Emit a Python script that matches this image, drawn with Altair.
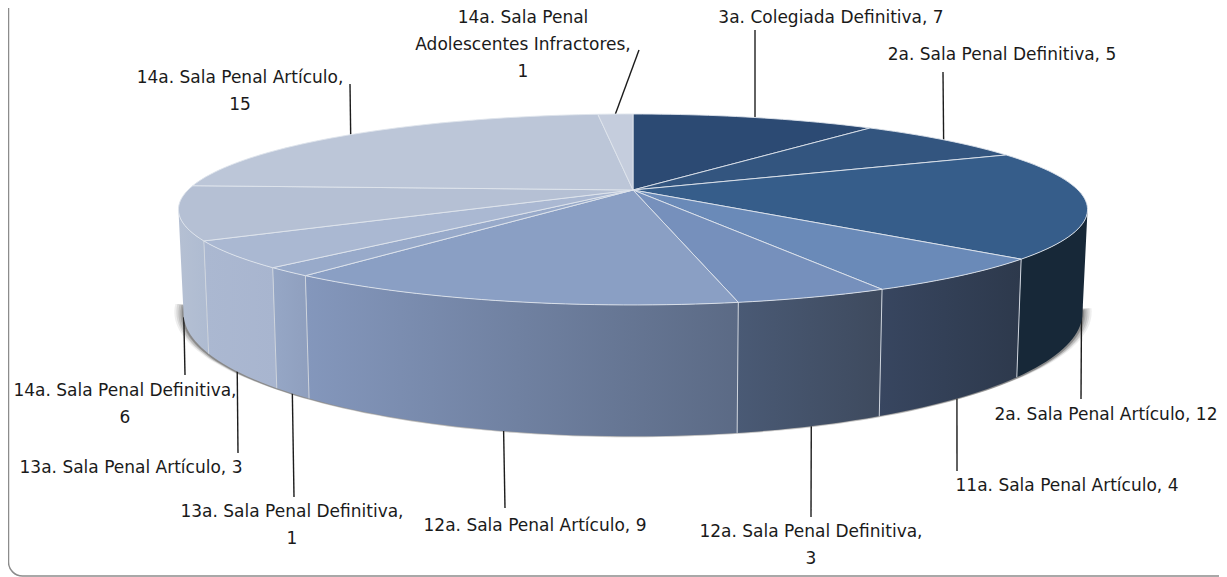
import math
import altair as alt
import pandas as pd

# --- chart data ---
labels = ["3a. Colegiada Definitiva", "2a. Sala Penal Definitiva", "2a. Sala Penal Artículo",
          "11a. Sala Penal Artículo", "12a. Sala Penal Definitiva", "12a. Sala Penal Artículo",
          "13a. Sala Penal Definitiva", "13a. Sala Penal Artículo", "14a. Sala Penal Definitiva",
          "14a. Sala Penal Artículo", "14a. Sala Penal Adolescentes Infractores"]
values = [7, 5, 12, 4, 3, 9, 1, 3, 6, 15, 1]

# --- styles and layout, kept apart from the data ---
top_colors = ["#2c4a73", "#33557f", "#365d8a", "#6a8ab8", "#7690bc", "#8a9fc4",
              "#98aaca", "#aab8d2", "#b5c0d4", "#bcc6d8", "#c5cddd"]
wall_stops = {2: ("#172838", "#172838"), 3: ("#384660", "#2d394c"), 4: ("#4a5a75", "#3e4a5e"),
              5: ("#8497bc", "#5b6a85"), 6: ("#96a7c6", "#8f9fbe"), 7: ("#abb8d1", "#a8b5cf"),
              8: ("#b5c0d3", "#aebbd1")}
label_lines = [["3a. Colegiada Definitiva, 7"], ["2a. Sala Penal Definitiva, 5"],
               ["2a. Sala Penal Artículo, 12"], ["11a. Sala Penal Artículo, 4"],
               ["12a. Sala Penal Definitiva,", "3"], ["12a. Sala Penal Artículo, 9"],
               ["13a. Sala Penal Definitiva,", "1"], ["13a. Sala Penal Artículo, 3"],
               ["14a. Sala Penal Definitiva,", "6"], ["14a. Sala Penal Artículo,", "15"],
               ["14a. Sala Penal", "Adolescentes Infractores,", "1"]]
label_pos = [(831, 18), (1002, 55), (1106, 415), (1067, 486), (811, 532), (535, 526),
             (292, 512), (131, 468), (125, 391), (240, 78), (523, 18)]
leader_end = [(755, 30), (943, 72), (1081, 399), (957, 471), (811, 517), (505, 508),
              (294, 497), (238, 453), (185, 375), (350, 84), (639, 50)]

W, H = 1211, 569
x_scale = alt.Scale(domain=[8, 1219], range=[0, W], nice=False, zero=False)
y_scale = alt.Scale(domain=[8, 577], range=[0, H], nice=False, zero=False)
X = lambda f="x", **k: alt.X(f"{f}:Q", scale=x_scale, axis=None, **k)
Y = lambda f="y", **k: alt.Y(f"{f}:Q", scale=y_scale, axis=None, **k)

CX, TY, K = 633.0, 190.0, 0.204


def rim(theta, level="top", grow=0.0, dy=0.0):
    s, c = math.sin(math.radians(theta)), -math.cos(math.radians(theta))
    d = 1 - K * c
    if level == "top":
        return CX + 445 * s / d, TY + 91.5 * c / d
    return CX + (440 + grow) * s / d, 288 + dy + 118 * c / d


def sweep(a, b, **kw):
    n = max(2, int(abs(b - a) / 1.5) + 2)
    return [rim(a + (b - a) * i / (n - 1), **kw) for i in range(n)]


def poly(points):
    pts = list(points) + [points[0]]
    return pd.DataFrame({"x": [p[0] for p in pts], "y": [p[1] for p in pts], "i": range(len(pts))})


def shape(points, **mark):
    return alt.Chart(poly(points)).mark_line(interpolate="linear", **mark).encode(
        x=X(), y=Y(), order=alt.Order("i:Q"))


total = sum(values)
edges = [0.0]
for v in values:
    edges.append(edges[-1] + v / total * 360)
SIL_R, SIL_L = 101.8, 258.2

layers = []

# frame
layers.append(alt.Chart(pd.DataFrame({"a": [0]})).mark_rect(
    filled=False, stroke="#8c8c8c", strokeWidth=1.5, cornerRadius=14).encode(
    x=alt.value(0.5), x2=alt.value(W + 30), y=alt.value(-30), y2=alt.value(H - 1)))

# soft shadow under the body
for grow, dy, op in [(9, -1, 0.10), (7, -1, 0.14), (5, 0, 0.18), (3, 0, 0.25), (1.5, 1, 0.35)]:
    layers.append(shape(sweep(100, 262, level="bot", grow=grow, dy=dy),
                        fill="#555555", fillOpacity=op, stroke="transparent", strokeWidth=0))

# leader lines
leaders = []
for i, (a, b) in enumerate(zip(edges[:-1], edges[1:])):
    mid = (a + b) / 2
    sx, sy = rim(mid, level="bot" if 95 < mid < 265 else "top")
    leaders.append({"x": sx, "y": sy, "x2": leader_end[i][0], "y2": leader_end[i][1]})
layers.append(alt.Chart(pd.DataFrame(leaders)).mark_rule(color="#1c1c1c", strokeWidth=1.4).encode(
    x=X(), y=Y(), x2="x2:Q", y2="y2:Q"))

# wall
for i, (c0, c1) in wall_stops.items():
    a, b = max(edges[i], SIL_R), min(edges[i + 1], SIL_L)
    grad = alt.LinearGradient(gradient="linear", x1=1, x2=0, y1=0, y2=0,
                              stops=[alt.GradientStop(color=c1, offset=0),
                                     alt.GradientStop(color=c0, offset=1)])
    layers.append(shape(sweep(a, b) + sweep(b, a, level="bot"),
                        fill=grad, stroke="transparent", strokeWidth=0))

# wall separators
seps = []
for e in edges[3:9]:
    tx, ty = rim(e)
    bx, by = rim(e, level="bot")
    seps.append({"x": tx, "y": ty, "x2": bx, "y2": by})
layers.append(alt.Chart(pd.DataFrame(seps)).mark_rule(color="#cfd5de", strokeWidth=1).encode(
    x=X(), y=Y(), x2="x2:Q", y2="y2:Q"))

# top face
for i, col in enumerate(top_colors):
    layers.append(shape([(CX, TY)] + sweep(edges[i], edges[i + 1]),
                        fill=col, stroke="#dfe4ec", strokeWidth=0.9))

# labels
rows = []
for lines, (x, y) in zip(label_lines, label_pos):
    for j, t in enumerate(lines):
        rows.append({"x": x, "y": y + j * 27, "t": t})
layers.append(alt.Chart(pd.DataFrame(rows)).mark_text(
    font="DejaVu Sans", fontSize=17, color="#1a1a1a", align="center", baseline="middle").encode(
    x=X(), y=Y(), text="t:N"))

chart = alt.layer(*layers).properties(
    width=W, height=H, padding=0, autosize=alt.AutoSizeParams(type="none"),
    background="white").configure_view(stroke=None)
chart.save("out.html", embed_options={"renderer": "svg", "actions": False})
